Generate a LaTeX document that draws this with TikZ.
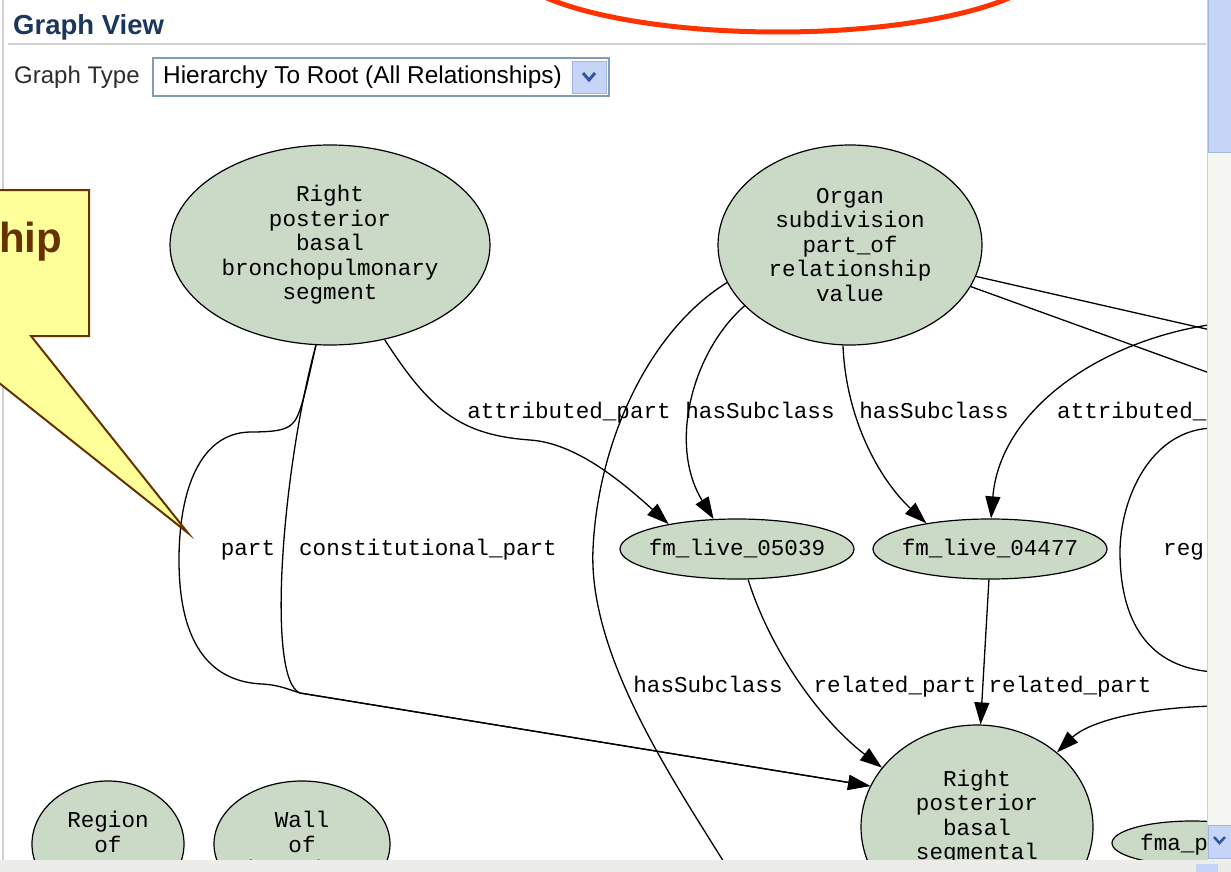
\documentclass[tikz,border=0pt]{standalone}
\usepackage{fontspec}
\setmainfont{Liberation Sans}
\newfontfamily\graphmono{Liberation Mono}
\usetikzlibrary{shapes.geometric,arrows.meta}

\definecolor{nodefill}{RGB}{203,217,199}
\definecolor{headnavy}{RGB}{28,54,92}
\definecolor{uitext}{RGB}{45,45,45}
\definecolor{boxedge}{RGB}{127,157,185}
\definecolor{btnblue}{RGB}{198,213,246}
\definecolor{btnedge}{RGB}{160,182,228}
\definecolor{chevron}{RGB}{55,85,160}
\definecolor{markred}{RGB}{255,51,0}
\definecolor{noteyellow}{RGB}{255,255,153}
\definecolor{notebrown}{RGB}{102,51,0}
\definecolor{rulegray}{RGB}{208,208,208}
\definecolor{trackgray}{RGB}{245,245,242}
\definecolor{bargray}{RGB}{236,236,232}

\newcommand\gfont{\graphmono\fontsize{22.6}{24.5}\selectfont}

\begin{document}
\begin{tikzpicture}[x=1pt,y=-1pt,
  gnode/.style={ellipse, draw=black, line width=1.2pt, fill=nodefill,
                inner sep=0pt, align=center, font=\gfont},
  rel/.style={line width=1.3pt, draw=black},
  arr/.style={rel, -{Triangle[length=22pt,width=15pt]}},
  elabel/.style={font=\gfont, anchor=base, inner sep=0pt},
  uitxt/.style={font=\fontsize{24}{27}\selectfont, text=uitext,
                anchor=base west, inner sep=0pt}
]
\useasboundingbox (0,0) rectangle (1231,872);
\clip (0,0) rectangle (1231,872);
\fill[white] (0,0) rectangle (1231,872);

% panel border
\draw[rulegray, line width=1.5pt] (3,0) -- (3,872);

% header and graph type selector
\node[anchor=base west, inner sep=0pt, font=\bfseries\fontsize{27.5}{31}\selectfont,
      text=headnavy] (title) at (13,35) {Graph View};
\draw[rulegray, line width=1.5pt] (8,44) -- (1206,44);
\node[uitxt] (gtype) at (14,84) {Graph Type};
\draw[boxedge, line width=1.5pt, fill=white] (153,58) rectangle (609,96);
\node[uitxt, text=black, font=\fontsize{24.4}{27}\selectfont] (gsel) at (163,84)
  {Hierarchy To Root (All Relationships)};
\filldraw[fill=btnblue, draw=btnedge] (572,61) rectangle (606,93);
\draw[chevron, line width=3pt] (583,73) -- (589,80) -- (595,73);

% red highlight ring
\draw[markred, line width=5pt] (778,-40) ellipse [x radius=272pt, y radius=72pt];

% graph nodes
\node[gnode, minimum width=320pt, minimum height=200pt] (A) at (330,245)
  {Right\\posterior\\basal\\bronchopulmonary\\segment};
\node[gnode, minimum width=264pt, minimum height=200pt] (B) at (850,245)
  {Organ\\subdivision\\part\_of\\relationship\\value};
\node[gnode, minimum width=234pt, minimum height=60pt] (C) at (737,549)
  {\makebox[0pt]{fm\_live\_05039}};
\node[gnode, minimum width=234pt, minimum height=60pt] (D) at (990,549)
  {\makebox[0pt]{fm\_live\_04477}};
\node[gnode, minimum width=232pt, minimum height=204pt] (E) at (977,827)
  {Right\\posterior\\basal\\segmental\\\mbox{}};
\node[gnode, minimum width=152pt, minimum height=126pt] (F) at (108,844)
  {Region\\of\\mucosa};
\node[gnode, minimum width=176pt, minimum height=126pt] (G) at (302,844)
  {Wall\\of\\bronchus};
\node[gnode, minimum width=160pt, minimum height=44pt] (H) at (1192,843) {};
\node[font=\gfont, anchor=base west, inner sep=0pt] (Htext) at (1140,850) {fma\_p};

% loose ends of edges leaving the visible area
\coordinate (inAttr) at (1215,324);
\coordinate (outB1) at (1215,331);
\coordinate (outB2) at (1215,375);
\coordinate (regTop) at (1215,428);
\coordinate (regBot) at (1215,672);
\coordinate (inE) at (1215,706);
\coordinate (offB) at (735,880);

% part / constitutional_part
\draw[arr] (A.262) .. controls (282,470) and (266,680) .. (300,693) -- (E.159);
\draw[arr] (A.262) .. controls (306,390) and (300,418) .. (292,424)
  .. controls (286,430) and (275,432) .. (250,432)
  .. controls (200,433) and (179,490) .. (179,560)
  .. controls (179,650) and (215,682) .. (262,684)
  .. controls (280,685) and (290,690) .. (300,693) -- (E.159);

% attributed_part
\draw[arr] (A.300) .. controls (430,410) and (460,435) .. (530,440)
  .. controls (575,443) and (620,480) .. (C.160);

% hasSubclass edges
\draw[arr] (B.210) .. controls (692,352) and (668,445) .. (C.128);
\draw[arr] (B.266) .. controls (846,420) and (880,480) .. (D.158);
\draw[rel] (B.197) .. controls (650,330) and (598,440) .. (593,549)
  .. controls (588,660) and (680,790) .. (offB);

% edges towards the right side
\draw[arr] (inAttr) .. controls (1100,340) and (1000,410) .. (D.88);
\draw[rel] (B.346) -- (outB1);
\draw[rel] (B.341) -- (outB2);
\draw[rel] (regTop) .. controls (1150,428) and (1120,500) .. (1120,552)
  .. controls (1120,610) and (1140,668) .. (regBot);

% related_part edges
\draw[arr] (C.290) .. controls (770,650) and (820,720) .. (E.148);
\draw[arr] (D.268) -- (E.88);
\draw[arr] (inE) .. controls (1130,708) and (1085,725) .. (E.43);

% edge labels
\node[elabel] (lpart) at (248,555) {part};
\node[elabel] (lconst) at (428,555) {constitutional\_part};
\node[elabel] (lattr) at (569,418) {attributed\_part};
\node[elabel] (lsubC) at (760,418) {hasSubclass};
\node[elabel] (lsubD) at (934,418) {hasSubclass};
\node[elabel, anchor=base west] (lattr2) at (1057,418) {attributed\_};
\node[elabel] (lsubL) at (708,692) {hasSubclass};
\node[elabel] (lrelC) at (895,692) {related\_part};
\node[elabel] (lrelD) at (1070,692) {related\_part};
\node[elabel, anchor=base west] (lreg) at (1163,555) {reg};

% callout
\filldraw[fill=noteyellow, draw=notebrown, line width=2pt, line join=miter]
  (-70,190) -- (89,190) -- (89,336) -- (31,336) -- (188,533) -- (-60,336) -- cycle;
\node[anchor=base west, inner sep=0pt, font=\bfseries\fontsize{42}{46}\selectfont,
      text=notebrown] (hip) at (-1,252) {hip};

% scroll bars
\fill[trackgray] (1207,0) rectangle (1231,872);
\draw[rulegray] (1207,0) -- (1207,860);
\filldraw[fill=btnblue, draw=btnedge] (1208,-3) rectangle (1231,152);
\filldraw[fill=btnblue, draw=btnedge] (1208,825) rectangle (1231,858);
\draw[chevron, line width=2.5pt] (1214,837) -- (1219.5,843) -- (1225,837);
\fill[bargray] (0,860) rectangle (1231,872);
\fill[btnblue] (1196,864) rectangle (1218,872);
\end{tikzpicture}
\end{document}
